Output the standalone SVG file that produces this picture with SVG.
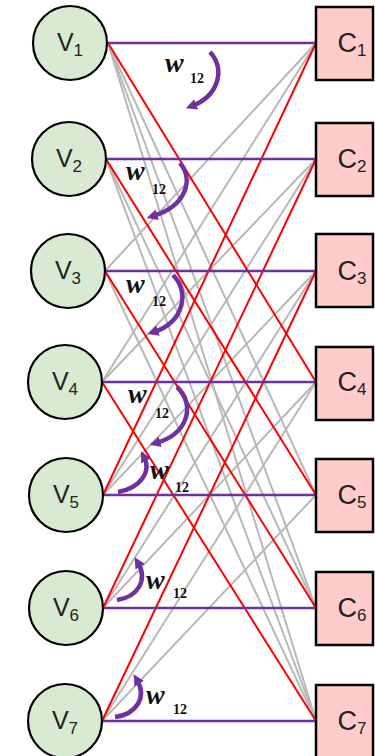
<svg xmlns="http://www.w3.org/2000/svg" width="375" height="756" viewBox="0 0 375 756">
<style>
.v{fill:#D8EAD2;stroke:#000;stroke-width:2.2}
.c{fill:#FFCCCC;stroke:#000;stroke-width:2.5}
.lbl{font-family:"Liberation Sans",Arial,sans-serif;font-size:25px;fill:#222}
.cl{font-size:27px}
.sub{font-size:17px}
.p{stroke:#7030A0;stroke-width:2.5}
.r{stroke:#FF0000;stroke-width:2}
.g{stroke:#B8B8B8;stroke-width:2}
.arr{fill:none;stroke:#70309F;stroke-width:4.5}
.w{font-family:"Liberation Serif","DejaVu Serif",serif;font-style:italic;font-weight:bold;font-size:28px;fill:#111}
.n{font-family:"Liberation Serif","DejaVu Serif",serif;font-weight:bold;font-size:14px;fill:#111}
</style>
<defs>
<marker id="ah" viewBox="0 0 10 10" refX="4" refY="5" markerUnits="userSpaceOnUse" markerWidth="11" markerHeight="11" orient="auto">
<path d="M0,0 L10,5 L0,10 z" fill="#70309F"/>
</marker>
</defs>
<g id="connectors" fill="none">
<g class="g">
<line x1="108" y1="43" x2="316" y2="495"/>
<line x1="108" y1="43" x2="316" y2="608"/>
<line x1="108" y1="43" x2="316" y2="721"/>
<line x1="106" y1="159" x2="316" y2="608"/>
<line x1="106" y1="159" x2="316" y2="721"/>
<line x1="105" y1="271" x2="316" y2="721"/>
<line x1="105" y1="271" x2="316" y2="43"/>
<line x1="102" y1="382" x2="316" y2="43"/>
<line x1="102" y1="382" x2="316" y2="159"/>
<line x1="103" y1="495" x2="316" y2="159"/>
<line x1="103" y1="495" x2="316" y2="271"/>
<line x1="103" y1="608" x2="316" y2="271"/>
<line x1="103" y1="608" x2="316" y2="382"/>
<line x1="102" y1="721" x2="316" y2="382"/>
<line x1="102" y1="721" x2="316" y2="495"/>
</g>
<g class="r">
<line x1="108" y1="43" x2="316" y2="382"/>
<line x1="106" y1="159" x2="316" y2="495"/>
<line x1="105" y1="271" x2="316" y2="608"/>
<line x1="102" y1="382" x2="316" y2="721"/>
<line x1="103" y1="495" x2="316" y2="43"/>
<line x1="103" y1="608" x2="316" y2="159"/>
<line x1="102" y1="721" x2="316" y2="271"/>
</g>
<g class="p">
<line x1="108" y1="43" x2="316" y2="43"/>
<line x1="106" y1="159" x2="316" y2="159"/>
<line x1="105" y1="271" x2="316" y2="271"/>
<line x1="102" y1="382" x2="316" y2="382"/>
<line x1="103" y1="495" x2="316" y2="495"/>
<line x1="103" y1="608" x2="316" y2="608"/>
<line x1="102" y1="721" x2="316" y2="721"/>
</g>
</g>
<g id="V1"><circle class="v" cx="70" cy="43" r="37"/><text class="lbl" x="70" y="51" text-anchor="middle">V<tspan class="sub" dy="5">1</tspan></text></g>
<g id="V2"><circle class="v" cx="69" cy="159" r="37"/><text class="lbl" x="69" y="167" text-anchor="middle">V<tspan class="sub" dy="5">2</tspan></text></g>
<g id="V3"><circle class="v" cx="68" cy="271" r="37"/><text class="lbl" x="68" y="279" text-anchor="middle">V<tspan class="sub" dy="5">3</tspan></text></g>
<g id="V4"><circle class="v" cx="65" cy="382" r="37"/><text class="lbl" x="65" y="390" text-anchor="middle">V<tspan class="sub" dy="5">4</tspan></text></g>
<g id="V5"><circle class="v" cx="66" cy="495" r="37"/><text class="lbl" x="66" y="503" text-anchor="middle">V<tspan class="sub" dy="5">5</tspan></text></g>
<g id="V6"><circle class="v" cx="66" cy="608" r="37"/><text class="lbl" x="66" y="616" text-anchor="middle">V<tspan class="sub" dy="5">6</tspan></text></g>
<g id="V7"><circle class="v" cx="65" cy="721" r="37"/><text class="lbl" x="65" y="729" text-anchor="middle">V<tspan class="sub" dy="5">7</tspan></text></g>
<g id="C1"><rect class="c" x="316" y="7" width="57" height="73"/><text class="lbl cl" x="352" y="52" text-anchor="middle">C<tspan class="sub" dy="4">1</tspan></text></g>
<g id="C2"><rect class="c" x="316" y="123" width="57" height="73"/><text class="lbl cl" x="352" y="168" text-anchor="middle">C<tspan class="sub" dy="4">2</tspan></text></g>
<g id="C3"><rect class="c" x="316" y="234" width="57" height="73"/><text class="lbl cl" x="352" y="280" text-anchor="middle">C<tspan class="sub" dy="4">3</tspan></text></g>
<g id="C4"><rect class="c" x="316" y="347" width="57" height="73"/><text class="lbl cl" x="352" y="391" text-anchor="middle">C<tspan class="sub" dy="4">4</tspan></text></g>
<g id="C5"><rect class="c" x="316" y="459" width="57" height="73"/><text class="lbl cl" x="352" y="504" text-anchor="middle">C<tspan class="sub" dy="4">5</tspan></text></g>
<g id="C6"><rect class="c" x="316" y="572" width="57" height="73"/><text class="lbl cl" x="352" y="617" text-anchor="middle">C<tspan class="sub" dy="4">6</tspan></text></g>
<g id="C7"><rect class="c" x="316" y="685" width="57" height="74"/><text class="lbl cl" x="352" y="730" text-anchor="middle">C<tspan class="sub" dy="4">7</tspan></text></g>
<g id="weights">
<path class="arr" marker-end="url(#ah)" d="M210 52 C226 70 218 96 192 106"/>
<path class="arr" marker-end="url(#ah)" d="M180 163 C194 180 186 206 153 216"/>
<path class="arr" marker-end="url(#ah)" d="M173 275 C190 292 184 322 154 332"/>
<path class="arr" marker-end="url(#ah)" d="M177 387 C196 405 188 434 156 443"/>
<path class="arr" marker-end="url(#ah)" d="M118 492 C140 488 152 472 144 457"/>
<path class="arr" marker-end="url(#ah)" d="M117 600 C138 597 148 580 138 563"/>
<path class="arr" marker-end="url(#ah)" d="M115 717 C137 714 147 697 137 680"/>
<text class="w" x="165" y="72">w</text><text class="n" x="190" y="83">12</text>
<text class="w" x="126" y="180">w</text><text class="n" x="152" y="194">12</text>
<text class="w" x="126" y="293">w</text><text class="n" x="152" y="306">12</text>
<text class="w" x="128" y="403">w</text><text class="n" x="155" y="418">12</text>
<text class="w" x="150" y="479">w</text><text class="n" x="175" y="492">12</text>
<text class="w" x="146" y="589">w</text><text class="n" x="173" y="598">12</text>
<text class="w" x="146" y="704">w</text><text class="n" x="173" y="714">12</text>
</g>
</svg>
